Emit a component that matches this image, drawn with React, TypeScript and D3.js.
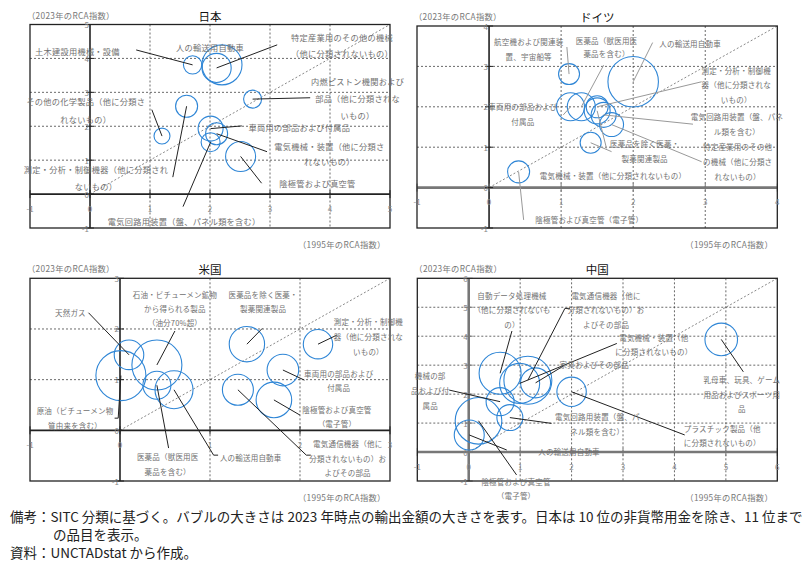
import { useEffect, useRef } from 'react'
import * as d3 from 'd3'

const W = 804
const H = 568
const FONT = '"Noto Sans CJK JP", "Noto Sans", sans-serif'
const BUBBLE = '#2f86d6'
const LABEL_GRAY = '#707070'

// ---- 日本 ----
const jpItems = ['人の輸送用自動車', '特定産業用のその他の機械', '土木建設用機械・設備', '内燃ピストン機関および部品', '測定・分析・制御機器', 'その他の化学製品', '車両用の部品および付属品', '電気機械・装置', '電気回路用装置', '陰極管および真空管']
const jpRca1995 = [2.2, 2.11, 1.71, 2.71, 1.61, 1.2, 2.01, 2.11, 2.01, 2.51]
const jpRca2023 = [3.81, 3.72, 3.81, 2.8, 2.59, 1.71, 1.93, 1.78, 1.53, 1.11]
const jpExport = [64, 34, 13.5, 13, 19.4, 10.2, 25, 19.4, 14.4, 36]

// ---- ドイツ ----
const deItems = ['航空機および関連装置', '車両用の部品および付属品', '医薬品', '測定・分析・制御機器', '医薬品を除く医薬・製薬関連製品', '電気回路用装置', '特定産業用のその他の機械', '電気機械・装置', '陰極管および真空管', '人の輸送用自動車']
const deRca1995 = [1.11, 1.13, 1.28, 1.5, 1.5, 1.59, 1.7, 1.41, 0.41, 2.0]
const deRca2023 = [2.81, 2.0, 2.0, 2.0, 1.9, 1.8, 1.56, 1.11, 0.39, 2.62]
const deExport = [17.6, 31.4, 31.4, 19.4, 27, 25, 23, 17.6, 19.4, 102]

// ---- 米国 ----
const usItems = ['天然ガス', '原油', '石油製品', '医薬品', '人の輸送用自動車', '医薬品を除く医薬・製薬関連製品', '測定・分析・制御機器', '車両用の部品および付属品', '電気通信機器', '陰極管および真空管']
const usRca1995 = [0.1, 0.01, 0.41, 0.41, 0.6, 1.41, 2.2, 1.81, 1.31, 1.71]
const usRca2023 = [1.49, 1.08, 1.29, 0.89, 0.8, 1.7, 1.7, 1.19, 0.8, 0.6]
const usExport = [35, 100, 100, 31.4, 57.8, 50, 34.6, 40, 38.4, 50.7]

// ---- 中国 ----
const cnItems = ['自動データ処理機械', '電気通信機器', '電気機械・装置', '家具およびその部品', '機械の部品および付属品', '陰極管および真空管', '電気回路用装置', '人の輸送用自動車', 'プラスチック製品', '乳母車、玩具、ゲーム用品']
const cnRca1995 = [0.61, 1.15, 0.99, 1.3, 0.61, 0.19, 0.8, 0.01, 2.0, 4.91]
const cnRca2023 = [2.72, 2.48, 2.37, 2.39, 1.74, 1.08, 1.19, 0.59, 2.08, 3.89]
const cnExport = [70.6, 92, 64, 36, 31.4, 87, 27, 36, 34.6, 42.5]

interface LabelSpec {
  lines: string[]
  at: [number, number] // data coords of first line
  gap?: number
  anchor?: 'start' | 'middle' | 'end'
  leader?: [number, number][]
}

const jpLabels: LabelSpec[] = [
  { lines: ['人の輸送用自動車'], at: [2.0, 4.33] },
  { lines: ['特定産業用のその他の機械', '（他に分類されないもの）'], at: [4.2, 4.63], gap: 16, leader: [[3.12, 4.4]] },
  { lines: ['土木建設用機械・設備'], at: [-0.21, 4.23], leader: [[0.77, 4.25]] },
  { lines: ['内燃ピストン機関および', '部品（他に分類されな', 'いもの）'], at: [4.46, 3.32], gap: 17, leader: [[3.67, 2.84]] },
  { lines: ['測定・分析・制御機器（他に分類され', 'ないもの）'], at: [0.1, 0.74], gap: 16.7, leader: [[1.38, 0.5]] },
  { lines: ['その他の化学製品（他に分類さ', 'れないもの）'], at: [-0.07, 2.73], gap: 17.3, leader: [[1.03, 2.49]] },
  { lines: ['車両用の部品および付属品'], at: [3.49, 1.98], leader: [[2.53, 2.01]] },
  { lines: ['電気機械・装置（他に分類さ', 'れないもの）'], at: [3.99, 1.43], gap: 15, leader: [[2.95, 1.25]] },
  { lines: ['電気回路用装置（盤、パネル類を含む）'], at: [1.57, -0.79], leader: [[1.55, -0.37]] },
  { lines: ['陰極管および真空管'], at: [3.79, 0.32], leader: [[2.86, 0.32]] },
]

const deLabels: LabelSpec[] = [
  { lines: ['航空機および関連装', '置、宇宙船等'], at: [0.55, 3.61], gap: 14.3, leader: [[1.08, 3.48]] },
  { lines: ['車両用の部品および', '付属品'], at: [0.47, 2.0], gap: 15, leader: [[1.03, 1.8]] },
  { lines: ['医薬品（獣医用医', '薬品を含む）'], at: [1.63, 3.65], gap: 13.3, leader: [[1.59, 3.03]] },
  { lines: ['測定・分析・制御機', '器（他に分類されな', 'いもの）'], at: [3.43, 2.91], gap: 14.5, leader: [[2.95, 2.62]] },
  { lines: ['医薬品を除く医薬・', '製薬関連製品'], at: [2.16, 1.08], gap: 14.3, leader: [[1.63, 0.97]] },
  { lines: ['電気回路用装置（盤、パネ', 'ル類を含む）'], at: [3.44, 1.75], gap: 15, leader: [[2.83, 1.57]] },
  { lines: ['特定産業用のその他', 'の機械（他に分類さ', 'れないもの）'], at: [3.45, 1.01], gap: 14.7, leader: [[2.95, 0.64]] },
  { lines: ['電気機械・装置（他に分類されないもの）'], at: [1.72, 0.31], leader: [[1.7, 0.89]] },
  { lines: ['陰極管および真空管（電子管）'], at: [1.39, -0.8], leader: [[0.48, -0.8]] },
  { lines: ['人の輸送用自動車'], at: [2.79, 3.57], leader: [[2.27, 3.59]] },
]

const usLabels: LabelSpec[] = [
  { lines: ['天然ガス'], at: [-0.38, 2.32], anchor: 'end', leader: [[-0.35, 2.32]] },
  { lines: ['原油（ビチューメン物', '質由来を含む）'], at: [-0.5, 0.4], gap: 15, leader: [[-0.06, 0.24], [-0.02, 0.24]] },
  { lines: ['石油・ビチューメン鉱物', 'から得られる製品', '（油分70%超）'], at: [0.61, 2.68], gap: 14.2, leader: [[0.61, 1.96]] },
  { lines: ['医薬品（獣医用医', '薬品を含む）'], at: [0.53, -0.52], gap: 14.5, leader: [[0.54, -0.35]] },
  { lines: ['人の輸送用自動車'], at: [1.11, -0.53], anchor: 'start', leader: [[1.09, -0.49], [1.04, -0.49]] },
  { lines: ['医薬品を除く医薬・', '製薬関連製品'], at: [1.59, 2.68], gap: 14.4, leader: [[1.58, 2.01]] },
  { lines: ['測定・分析・制御機', '器（他に分類されな', 'いもの）'], at: [2.76, 2.14], gap: 15, leader: [[2.41, 1.88]] },
  { lines: ['車両用の部品および', '付属品'], at: [2.43, 1.13], gap: 14.7, leader: [[2.05, 0.99]] },
  { lines: ['電気通信機器（他に', '分類されないもの）お', 'よびその部品'], at: [2.53, -0.26], gap: 14.5, leader: [[2.12, -0.49], [2.07, -0.49]] },
  { lines: ['陰極管および真空管', '（電子管）'], at: [2.41, 0.42], gap: 14.3, leader: [[2.0, 0.3]] },
]

const cnLabels: LabelSpec[] = [
  { lines: ['自動データ処理機械', '（他に分類されないも', 'の）'], at: [0.84, 5.42], gap: 14.7, leader: [[0.84, 4.18]] },
  { lines: ['電気通信機器（他に', '分類されないもの）お', 'よびその部品'], at: [2.67, 5.42], gap: 14.7, leader: [[1.97, 4.96], [1.87, 4.96]] },
  { lines: ['電気機械・装置（他', 'に分類されないもの）'], at: [3.6, 3.95], gap: 14, leader: [[2.88, 3.75]] },
  { lines: ['家具およびその部品'], at: [2.44, 3.01], leader: [[1.84, 2.97]] },
  { lines: ['機械の部', '品および付', '属品'], at: [-0.75, 2.66], gap: 15, leader: [[-0.38, 2.14]] },
  { lines: ['陰極管および真空管', '（電子管）'], at: [0.92, -1.0], gap: 14, leader: [[0.93, -0.79]] },
  { lines: ['電気回路用装置（盤、パ', 'ネル類を含む）'], at: [2.5, 1.22], gap: 14.5, leader: [[1.61, 0.99]] },
  { lines: ['人の輸送用自動車'], at: [1.95, 0.01], leader: [[0.74, 0.07]] },
  { lines: ['プラスチック製品（他', 'に分類されないもの）'], at: [4.93, 0.82], gap: 14.7, leader: [[4.2, 0.59]] },
  { lines: ['乳母車、玩具、ゲーム', '用品およびスポーツ用', '品'], at: [5.31, 2.49], gap: 14.5, leader: [[5.34, 2.77]] },
]

interface Panel {
  title: string
  box: { left: number; top: number; right: number; bottom: number }
  xDomain: [number, number]
  yDomain: [number, number]
  items: string[]
  rca1995: number[]
  rca2023: number[]
  exports: number[]
  labels: LabelSpec[]
  hAxis: { color: string; width: number }
  vAxis: { color: string; width: number }
  leaderColor: string
  fontSize: number
  spacing: number
}

const BLACK_AXIS = { color: '#222', width: 1.6 }
const GRAY_AXIS = { color: '#777', width: 2.6 }

const panels: Panel[] = [
  {
    title: '日本', box: { left: 30, top: 24.5, right: 390, bottom: 228 }, xDomain: [-1, 5], yDomain: [-1, 5],
    items: jpItems, rca1995: jpRca1995, rca2023: jpRca2023, exports: jpExport, labels: jpLabels,
    hAxis: BLACK_AXIS, vAxis: BLACK_AXIS, leaderColor: '#222', fontSize: 8.2, spacing: 0.3,
  },
  {
    title: 'ドイツ', box: { left: 417, top: 26, right: 777.3, bottom: 228 }, xDomain: [-1, 4], yDomain: [-1, 4],
    items: deItems, rca1995: deRca1995, rca2023: deRca2023, exports: deExport, labels: deLabels,
    hAxis: GRAY_AXIS, vAxis: BLACK_AXIS, leaderColor: '#999', fontSize: 7.5, spacing: 0.2,
  },
  {
    title: '米国', box: { left: 30, top: 278.3, right: 390, bottom: 481 }, xDomain: [-1, 3], yDomain: [-1, 3],
    items: usItems, rca1995: usRca1995, rca2023: usRca2023, exports: usExport, labels: usLabels,
    hAxis: BLACK_AXIS, vAxis: BLACK_AXIS, leaderColor: '#222', fontSize: 7.5, spacing: 0.2,
  },
  {
    title: '中国', box: { left: 417.3, top: 278.3, right: 777.3, bottom: 481 }, xDomain: [-1, 6], yDomain: [-1, 6],
    items: cnItems, rca1995: cnRca1995, rca2023: cnRca2023, exports: cnExport, labels: cnLabels,
    hAxis: GRAY_AXIS, vAxis: GRAY_AXIS, leaderColor: '#222', fontSize: 7.5, spacing: 0.2,
  },
]

const notes = [
  { text: '備考：SITC 分類に基づく。バブルの大きさは 2023 年時点の輸出金額の大きさを表す。日本は 10 位の非貨幣用金を除き、11 位まで', x: 10, y: 516 },
  { text: 'の品目を表示。', x: 53, y: 534 },
  { text: '資料：UNCTADstat から作成。', x: 10, y: 552 },
]

const rScale = d3.scaleSqrt().domain([0, 100]).range([0, 25])

type Sel = d3.Selection<SVGSVGElement, unknown, null, undefined>

function drawPanel(svg: Sel, p: Panel) {
  const { left, top, right, bottom } = p.box
  const x = d3.scaleLinear().domain(p.xDomain).range([left, right])
  const y = d3.scaleLinear().domain(p.yDomain).range([bottom, top])
  const g = svg.append('g')

  const xTicks = d3.range(p.xDomain[0], p.xDomain[1] + 1)
  const yTicks = d3.range(p.yDomain[0], p.yDomain[1] + 1)
  const inner = (v: number, dom: [number, number]) => v !== 0 && v !== dom[0] && v !== dom[1]

  // dotted grid
  g.selectAll('line.gx')
    .data(xTicks.filter((v) => inner(v, p.xDomain)))
    .join('line')
    .attr('x1', (v) => x(v)).attr('x2', (v) => x(v))
    .attr('y1', top).attr('y2', bottom)
    .attr('stroke', '#444').attr('stroke-width', 0.8).attr('stroke-dasharray', '2,2')
  g.selectAll('line.gy')
    .data(yTicks.filter((v) => inner(v, p.yDomain)))
    .join('line')
    .attr('y1', (v) => y(v)).attr('y2', (v) => y(v))
    .attr('x1', left).attr('x2', right)
    .attr('stroke', '#444').attr('stroke-width', 0.8).attr('stroke-dasharray', '2,2')

  // 45° line
  const dmax = Math.min(p.xDomain[1], p.yDomain[1])
  g.append('line')
    .attr('x1', x(0)).attr('y1', y(0)).attr('x2', x(dmax)).attr('y2', y(dmax))
    .attr('stroke', '#555').attr('stroke-width', 0.7).attr('stroke-dasharray', '2,2')

  // axes at zero
  g.append('line').attr('x1', left).attr('x2', right).attr('y1', y(0)).attr('y2', y(0))
    .attr('stroke', p.hAxis.color).attr('stroke-width', p.hAxis.width)
  g.append('line').attr('x1', x(0)).attr('x2', x(0)).attr('y1', top).attr('y2', bottom)
    .attr('stroke', p.vAxis.color).attr('stroke-width', p.vAxis.width)
  g.selectAll('line.tx').data(xTicks).join('line')
    .attr('x1', (v) => x(v)).attr('x2', (v) => x(v)).attr('y1', y(0) - 4).attr('y2', y(0) + 4)
    .attr('stroke', p.hAxis.color).attr('stroke-width', 1)
  g.selectAll('line.ty').data(yTicks).join('line')
    .attr('y1', (v) => y(v)).attr('y2', (v) => y(v)).attr('x1', x(0) - 4).attr('x2', x(0) + 4)
    .attr('stroke', p.vAxis.color).attr('stroke-width', 1)

  // frame
  g.append('rect').attr('x', left).attr('y', top).attr('width', right - left).attr('height', bottom - top)
    .attr('fill', 'none').attr('stroke', '#222').attr('stroke-width', 1.3)

  // tick labels
  g.selectAll('text.xl').data(xTicks).join('text')
    .attr('x', (v) => x(v)).attr('y', y(0) + 14)
    .attr('text-anchor', 'middle').attr('dominant-baseline', 'central')
    .attr('font-size', 8).attr('fill', '#888').attr('font-family', FONT)
    .text((v) => String(v))
  g.selectAll('text.yl').data(yTicks).join('text')
    .attr('x', x(0) - 1).attr('y', (v) => y(v))
    .attr('text-anchor', 'end').attr('dominant-baseline', 'central')
    .attr('font-size', 8).attr('fill', '#888').attr('font-family', FONT)
    .text((v) => String(v))

  // bubbles
  const idx = d3.range(p.items.length)
  g.selectAll('circle').data(idx).join('circle')
    .attr('cx', (i) => x(p.rca1995[i])).attr('cy', (i) => y(p.rca2023[i]))
    .attr('r', (i) => rScale(p.exports[i]))
    .attr('fill', 'none').attr('stroke', BUBBLE).attr('stroke-width', 1.1)

  // leaders
  const line = d3.line<[number, number]>().x((d) => x(d[0])).y((d) => y(d[1]))
  p.labels.forEach((lab, i) => {
    if (!lab.leader) return
    const pts: [number, number][] = [...lab.leader, [p.rca1995[i], p.rca2023[i]]]
    g.append('path').attr('d', line(pts)).attr('fill', 'none')
      .attr('stroke', p.leaderColor).attr('stroke-width', 1)
  })

  // labels
  p.labels.forEach((lab) => {
    const t = g.append('text')
      .attr('font-family', FONT).attr('font-size', p.fontSize).attr('letter-spacing', p.spacing)
      .attr('fill', LABEL_GRAY).attr('text-anchor', lab.anchor ?? 'middle')
    lab.lines.forEach((s, k) => {
      t.append('tspan').attr('x', x(lab.at[0])).attr('y', y(lab.at[1]) + k * (lab.gap ?? 15))
        .attr('dominant-baseline', 'central').text(s)
    })
  })

  // captions
  g.append('text').attr('x', left - 3).attr('y', top - 10).attr('dominant-baseline', 'central')
    .attr('font-family', FONT).attr('font-size', 8.3).attr('letter-spacing', 0.3).attr('fill', '#777')
    .text('（2023年のRCA指数）')
  g.append('text').attr('x', right - 92).attr('y', bottom + 16).attr('dominant-baseline', 'central')
    .attr('font-family', FONT).attr('font-size', 8.3).attr('letter-spacing', 0.3).attr('fill', '#777')
    .text('（1995年のRCA指数）')
  g.append('text').attr('x', (left + right) / 2).attr('y', top - 9).attr('text-anchor', 'middle')
    .attr('dominant-baseline', 'central').attr('font-family', FONT).attr('font-size', 11.5)
    .attr('fill', '#111').text(p.title)
}

export default function App() {
  const svgRef = useRef<SVGSVGElement>(null)

  useEffect(() => {
    if (!svgRef.current) return
    const svg = d3.select(svgRef.current)
    svg.selectAll('*').remove()
    svg.append('rect').attr('width', W).attr('height', H).attr('fill', '#fff')
    panels.forEach((p) => drawPanel(svg, p))
    svg.selectAll('text.note').data(notes).join('text')
      .attr('x', (d) => d.x).attr('y', (d) => d.y)
      .attr('dominant-baseline', 'central')
      .attr('font-family', FONT).attr('font-size', 13.5).attr('fill', '#222')
      .text((d) => d.text)
  }, [])

  return (
    <svg ref={svgRef} width={W} height={H} style={{ position: 'absolute', left: 0, top: 0, display: 'block' }} />
  )
}
